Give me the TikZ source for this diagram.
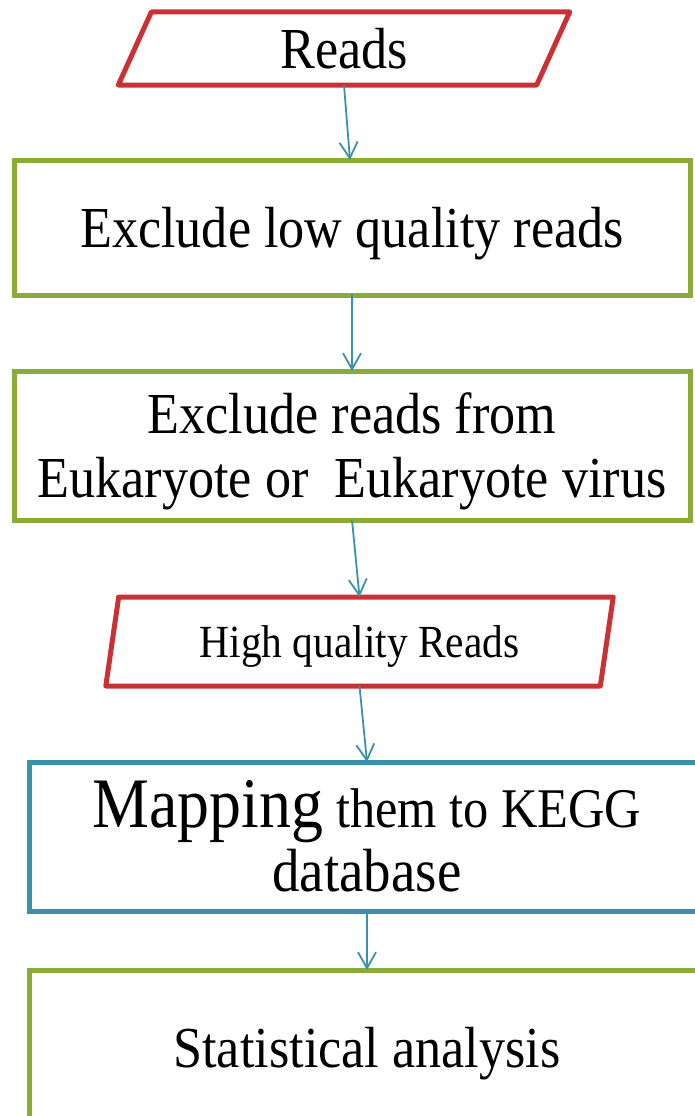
\documentclass[tikz,border=0pt]{standalone}
\usepackage{fontspec}
\setmainfont{Liberation Serif}[FakeStretch=0.9]
\usetikzlibrary{shapes.geometric,arrows.meta}
\definecolor{fred}{RGB}{200,50,52}
\definecolor{fgreen}{RGB}{137,172,56}
\definecolor{fteal}{RGB}{58,146,168}
\tikzset{
  box/.style={draw, line width=5pt, fill=white, inner sep=0pt, outer sep=0pt, align=center, text=black},
  gbox/.style={box, draw=fgreen},
  tbox/.style={box, draw=fteal},
  iobox/.style={box, draw=fred, trapezium, trapezium left angle=75, trapezium right angle=105, trapezium stretches=true, line join=round},
  arr/.style={draw=fteal, line width=1.8pt, -{Straight Barb[length=16pt,width=18pt,line width=1.8pt]}},
  big/.style={font=\fontsize{58}{64}\selectfont}
}
\begin{document}
\begin{tikzpicture}[x=1pt,y=-1pt]
\useasboundingbox (0,0) rectangle (695,1116);
\clip (0,0) rectangle (695,1116);
\node[iobox, big, minimum width=452pt, minimum height=73pt] (reads) at (344,48.5) {Reads};
\node[gbox, big, text depth=0pt, minimum width=676pt, minimum height=135pt] (b1) at (352,227.5) {Exclude low quality reads};
\node[gbox, big, text depth=0pt, minimum width=676pt, minimum height=149pt] (b2) at (352,445.5) {Exclude reads from\\Eukaryote or\ \ Eukaryote virus};
\node[iobox, font=\fontsize{46}{52}\selectfont, text depth=0pt, minimum width=509pt, minimum height=89pt] (hq) at (359.5,641.5) {High quality Reads};
\node[tbox, font=\fontsize{56}{64}\selectfont, minimum width=676pt, minimum height=149pt] (b3) at (367,836.5) {{\fontsize{71}{64}\selectfont Mapping} them to KEGG\\{\fontsize{61}{64}\selectfont database}};
\node[gbox, big, text depth=0pt, minimum width=676pt, minimum height=154pt] (b4) at (367,1047) {Statistical analysis};
\draw[arr] (reads.center |- reads.south) -- ([xshift=-2pt]b1.north);
\draw[arr] (b1.south) -- (b2.north);
\draw[arr] (b2.south) -- (hq.center |- hq.north);
\draw[arr] (hq.center |- hq.south) -- (b3.north);
\draw[arr] (b3.south) -- (b4.north);
\end{tikzpicture}
\end{document}
